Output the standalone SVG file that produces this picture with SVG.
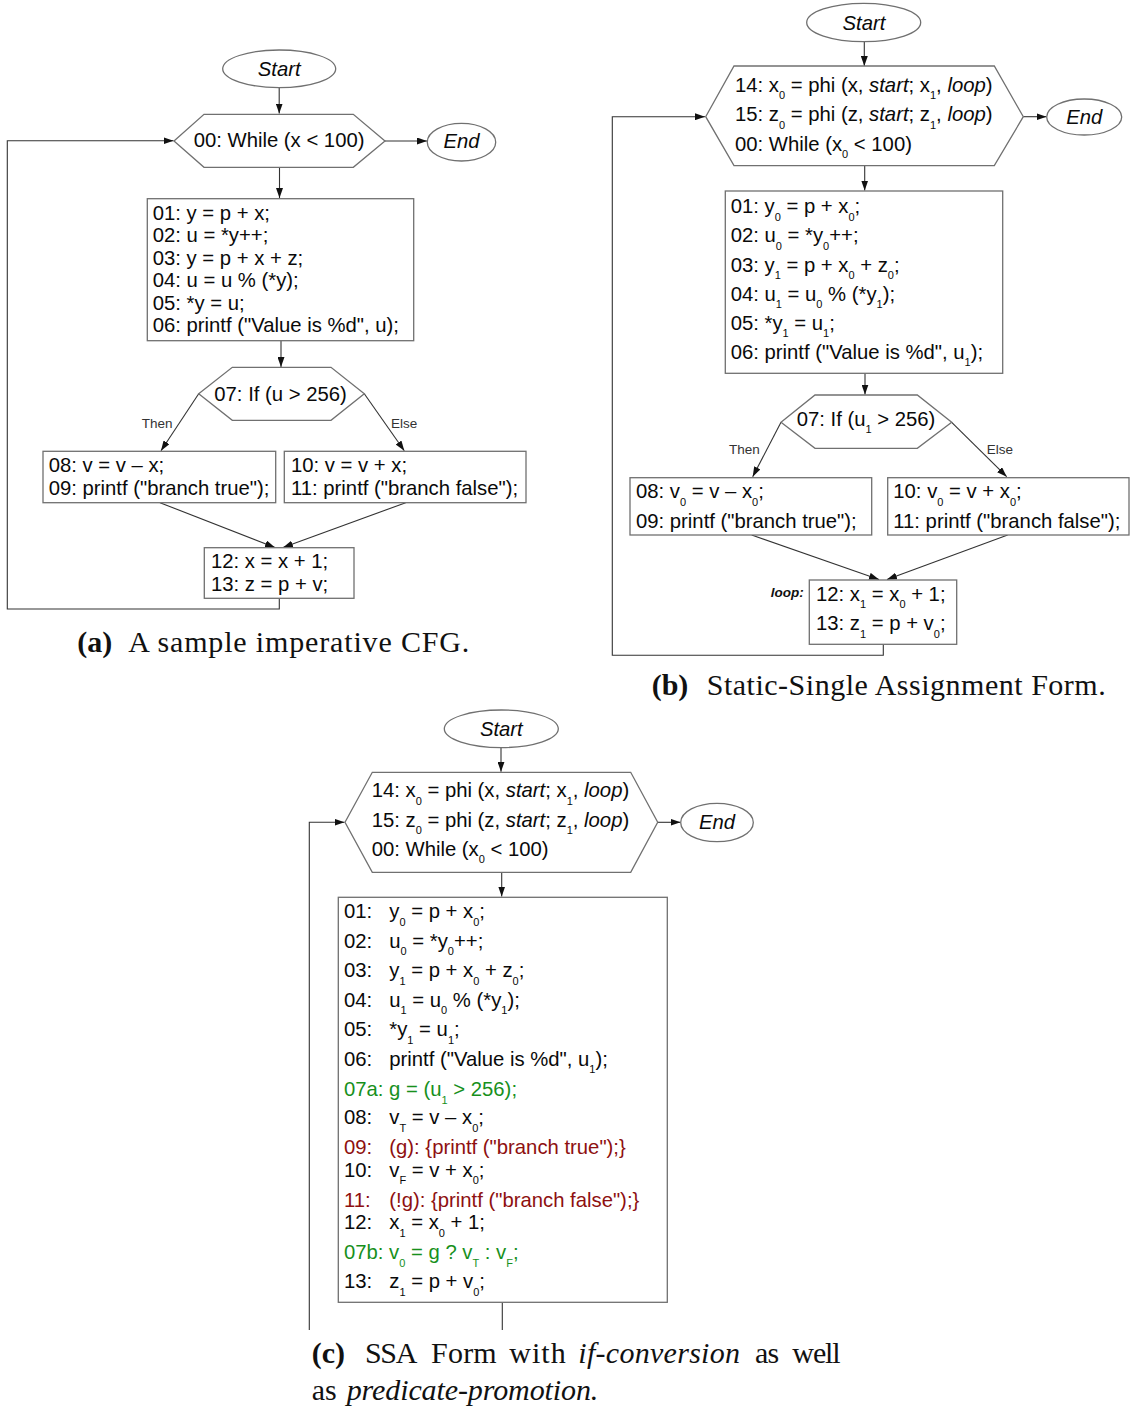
<svg xmlns="http://www.w3.org/2000/svg" width="1130" height="1416" viewBox="0 0 1130 1416">
<style>
  .code { font-family: "Liberation Sans", Arial, sans-serif; font-size: 20.3px; fill: #0a0a0a; }
  .it { font-style: italic; }
  .s { font-size: 11px; }
  .lbl { font-family: "Liberation Sans", Arial, sans-serif; font-size: 13.5px; fill: #333; }
  .loop { font-family: "Liberation Sans", Arial, sans-serif; font-size: 13.5px; font-weight: bold; font-style: italic; fill: #111; }
  .box { fill: #fff; stroke: #707070; stroke-width: 1.3; }
  .edge { fill: none; stroke: #333; stroke-width: 1.1; }
  .cap { font-family: "Liberation Serif", "Times New Roman", serif; font-size: 30px; fill: #111; }
  .capb { font-weight: bold; }
  .green { fill: #17901c; }
  .red { fill: #8e1010; }
</style>
<defs>
  <marker id="ah" viewBox="0 0 10 7" refX="10" refY="3.5" markerWidth="10" markerHeight="7" orient="auto" markerUnits="userSpaceOnUse">
    <path d="M0,0 L10,3.5 L0,7 z" fill="#111"/>
  </marker>
</defs>

<!-- ===== (a) imperative CFG ===== -->
<g id="a-connectors">
  <path class="edge" d="M279.2,87.7 V113.5" marker-end="url(#ah)"/>
  <path class="edge" d="M385,141 H427" marker-end="url(#ah)"/>
  <path class="edge" d="M279.5,167.3 V198" marker-end="url(#ah)"/>
  <path class="edge" d="M281,340.7 V367" marker-end="url(#ah)"/>
  <path class="edge" d="M198.7,393.7 L161,450.7" marker-end="url(#ah)"/>
  <path class="edge" d="M364.3,393.7 L404.3,450.7" marker-end="url(#ah)"/>
  <path class="edge" d="M160,502.7 L275,547.5" marker-end="url(#ah)"/>
  <path class="edge" d="M405.7,502.7 L283,547.5" marker-end="url(#ah)"/>
  <path class="edge" d="M279.3,598.3 V609 H7.3 V140.7 H173.5" marker-end="url(#ah)"/>
  <text class="lbl" x="141.7" y="427.7">Then</text>
  <text class="lbl" x="391" y="427.7">Else</text>
</g>
<g id="a-start">
  <ellipse class="box" cx="279.2" cy="68.8" rx="56.5" ry="18.8"/>
  <text class="code it" x="279.2" y="75.7" text-anchor="middle">Start</text>
</g>
<g id="a-while">
  <polygon class="box" points="174,141 204,114.3 353.3,114.3 385,141 353.3,167.3 204,167.3"/>
  <text class="code" x="193.7" y="147.3">00: While (x &lt; 100)</text>
</g>
<g id="a-end">
  <ellipse class="box" cx="461.5" cy="142.2" rx="34.2" ry="18.8"/>
  <text class="code it" x="461.5" y="148.3" text-anchor="middle">End</text>
</g>
<g id="a-body">
  <rect class="box" x="147.3" y="198.7" width="266.4" height="142"/>
  <text class="code" x="152.7" y="220">01: y = p + x;</text>
  <text class="code" x="152.7" y="242.3">02: u = *y++;</text>
  <text class="code" x="152.7" y="264.7">03: y = p + x + z;</text>
  <text class="code" x="152.7" y="287.2">04: u = u % (*y);</text>
  <text class="code" x="152.7" y="309.6">05: *y = u;</text>
  <text class="code" x="152.7" y="332">06: printf ("Value is %d", u);</text>
</g>
<g id="a-if">
  <polygon class="box" points="198.7,393.7 232.3,367.3 331,367.3 364.3,393.7 331,420.3 232.3,420.3"/>
  <text class="code" x="214.3" y="400.7">07: If (u &gt; 256)</text>
</g>
<g id="a-then">
  <rect class="box" x="43" y="451.3" width="232.7" height="51.4"/>
  <text class="code" x="48.7" y="472.3">08: v = v – x;</text>
  <text class="code" x="48.7" y="495">09: printf ("branch true");</text>
</g>
<g id="a-else">
  <rect class="box" x="284.3" y="451.3" width="241.7" height="51.4"/>
  <text class="code" x="291" y="472.3">10: v = v + x;</text>
  <text class="code" x="291" y="495">11: printf ("branch false");</text>
</g>
<g id="a-join">
  <rect class="box" x="204.3" y="547.7" width="149.7" height="50.6"/>
  <text class="code" x="211" y="568.3">12: x = x + 1;</text>
  <text class="code" x="211" y="590.7">13: z = p + v;</text>
</g>
<g id="a-caption">
  <text class="cap capb" x="77.3" y="651.7">(a)</text>
  <text class="cap" x="128.3" y="651.7" textLength="341" lengthAdjust="spacing">A sample imperative CFG.</text>
</g>

<!-- ===== (b) SSA form ===== -->
<g id="b-connectors">
  <path class="edge" d="M864.3,41.7 V66" marker-end="url(#ah)"/>
  <path class="edge" d="M1023.3,116.7 H1046.5" marker-end="url(#ah)"/>
  <path class="edge" d="M864.7,165.7 V190.5" marker-end="url(#ah)"/>
  <path class="edge" d="M865,373.3 V394.5" marker-end="url(#ah)"/>
  <path class="edge" d="M781,422.3 L752.7,476.7" marker-end="url(#ah)"/>
  <path class="edge" d="M951.7,422.3 L1006.7,476.7" marker-end="url(#ah)"/>
  <path class="edge" d="M751.7,535 L879,579.5" marker-end="url(#ah)"/>
  <path class="edge" d="M1007.7,535 L887,579.5" marker-end="url(#ah)"/>
  <path class="edge" d="M883.3,644.3 V655.3 H612.3 V116.7 H705" marker-end="url(#ah)"/>
  <text class="lbl" x="729" y="454">Then</text>
  <text class="lbl" x="986.7" y="454">Else</text>
</g>
<g id="b-start">
  <ellipse class="box" cx="863.7" cy="22.5" rx="57" ry="19.2"/>
  <text class="code it" x="864" y="30" text-anchor="middle">Start</text>
</g>
<g id="b-while">
  <polygon class="box" points="705.7,116.7 734,66 994.3,66 1023.3,116.7 994.3,165.7 734,165.7"/>
  <text class="code" x="735" y="91.7">14: x<tspan class="s" dy="7.5">0</tspan><tspan dy="-7.5"> = phi (x, </tspan><tspan class="it">start</tspan>; x<tspan class="s" dy="7.5">1</tspan><tspan dy="-7.5">, </tspan><tspan class="it">loop</tspan>)</text>
  <text class="code" x="735" y="121">15: z<tspan class="s" dy="7.5">0</tspan><tspan dy="-7.5"> = phi (z, </tspan><tspan class="it">start</tspan>; z<tspan class="s" dy="7.5">1</tspan><tspan dy="-7.5">, </tspan><tspan class="it">loop</tspan>)</text>
  <text class="code" x="735" y="150.7">00: While (x<tspan class="s" dy="7.5">0</tspan><tspan dy="-7.5"> &lt; 100)</tspan></text>
</g>
<g id="b-end">
  <ellipse class="box" cx="1084.2" cy="117" rx="37.5" ry="18"/>
  <text class="code it" x="1084.2" y="124" text-anchor="middle">End</text>
</g>
<g id="b-body">
  <rect class="box" x="725.3" y="191" width="277.4" height="182.3"/>
  <text class="code" x="730.7" y="213.3">01: y<tspan class="s" dy="7.5">0</tspan><tspan dy="-7.5"> = p + x</tspan><tspan class="s" dy="7.5">0</tspan><tspan dy="-7.5">;</tspan></text>
  <text class="code" x="730.7" y="242.4">02: u<tspan class="s" dy="7.5">0</tspan><tspan dy="-7.5"> = *y</tspan><tspan class="s" dy="7.5">0</tspan><tspan dy="-7.5">++;</tspan></text>
  <text class="code" x="730.7" y="271.5">03: y<tspan class="s" dy="7.5">1</tspan><tspan dy="-7.5"> = p + x</tspan><tspan class="s" dy="7.5">0</tspan><tspan dy="-7.5"> + z</tspan><tspan class="s" dy="7.5">0</tspan><tspan dy="-7.5">;</tspan></text>
  <text class="code" x="730.7" y="300.5">04: u<tspan class="s" dy="7.5">1</tspan><tspan dy="-7.5"> = u</tspan><tspan class="s" dy="7.5">0</tspan><tspan dy="-7.5"> % (*y</tspan><tspan class="s" dy="7.5">1</tspan><tspan dy="-7.5">);</tspan></text>
  <text class="code" x="730.7" y="329.6">05: *y<tspan class="s" dy="7.5">1</tspan><tspan dy="-7.5"> = u</tspan><tspan class="s" dy="7.5">1</tspan><tspan dy="-7.5">;</tspan></text>
  <text class="code" x="730.7" y="358.7">06: printf ("Value is %d", u<tspan class="s" dy="7.5">1</tspan><tspan dy="-7.5">);</tspan></text>
</g>
<g id="b-if">
  <polygon class="box" points="781,422.3 815,395 917.3,395 951.7,422.3 917.3,448.3 815,448.3"/>
  <text class="code" x="796.7" y="425.7">07: If (u<tspan class="s" dy="7.5">1</tspan><tspan dy="-7.5"> &gt; 256)</tspan></text>
</g>
<g id="b-then">
  <rect class="box" x="630" y="477.7" width="241.7" height="57.3"/>
  <text class="code" x="636" y="498.3">08: v<tspan class="s" dy="7.5">0</tspan><tspan dy="-7.5"> = v – x</tspan><tspan class="s" dy="7.5">0</tspan><tspan dy="-7.5">;</tspan></text>
  <text class="code" x="636" y="527.7">09: printf ("branch true");</text>
</g>
<g id="b-else">
  <rect class="box" x="887.7" y="477.7" width="241.3" height="57.3"/>
  <text class="code" x="893.3" y="498.3">10: v<tspan class="s" dy="7.5">0</tspan><tspan dy="-7.5"> = v + x</tspan><tspan class="s" dy="7.5">0</tspan><tspan dy="-7.5">;</tspan></text>
  <text class="code" x="893.3" y="527.7">11: printf ("branch false");</text>
</g>
<g id="b-join">
  <text class="loop" x="770.7" y="596.7">loop:</text>
  <rect class="box" x="809.3" y="580" width="147.4" height="64.3"/>
  <text class="code" x="816" y="600.7">12: x<tspan class="s" dy="7.5">1</tspan><tspan dy="-7.5"> = x</tspan><tspan class="s" dy="7.5">0</tspan><tspan dy="-7.5"> + 1;</tspan></text>
  <text class="code" x="816" y="630">13: z<tspan class="s" dy="7.5">1</tspan><tspan dy="-7.5"> = p + v</tspan><tspan class="s" dy="7.5">0</tspan><tspan dy="-7.5">;</tspan></text>
</g>
<g id="b-caption">
  <text class="cap capb" x="651.7" y="695">(b)</text>
  <text class="cap" x="706.7" y="695" textLength="399" lengthAdjust="spacing">Static-Single Assignment Form.</text>
</g>

<!-- ===== (c) SSA with if-conversion ===== -->
<g id="c-connectors">
  <path class="edge" d="M501,747.7 V771.8" marker-end="url(#ah)"/>
  <path class="edge" d="M657.7,822.3 H680.5" marker-end="url(#ah)"/>
  <path class="edge" d="M501.7,872.3 V896.5" marker-end="url(#ah)"/>
  <path class="edge" d="M502.3,1302.3 V1330"/>
  <path class="edge" d="M309.3,1330 V822.3 H344.5" marker-end="url(#ah)"/>
</g>
<g id="c-start">
  <ellipse class="box" cx="501.3" cy="728.8" rx="57" ry="18.8"/>
  <text class="code it" x="501.3" y="735.7" text-anchor="middle">Start</text>
</g>
<g id="c-while">
  <polygon class="box" points="345,822.3 372.3,772.3 630.7,772.3 657.7,822.3 630.7,872.3 372.3,872.3"/>
  <text class="code" x="371.7" y="797.3">14: x<tspan class="s" dy="7.5">0</tspan><tspan dy="-7.5"> = phi (x, </tspan><tspan class="it">start</tspan>; x<tspan class="s" dy="7.5">1</tspan><tspan dy="-7.5">, </tspan><tspan class="it">loop</tspan>)</text>
  <text class="code" x="371.7" y="826.7">15: z<tspan class="s" dy="7.5">0</tspan><tspan dy="-7.5"> = phi (z, </tspan><tspan class="it">start</tspan>; z<tspan class="s" dy="7.5">1</tspan><tspan dy="-7.5">, </tspan><tspan class="it">loop</tspan>)</text>
  <text class="code" x="371.7" y="855.7">00: While (x<tspan class="s" dy="7.5">0</tspan><tspan dy="-7.5"> &lt; 100)</tspan></text>
</g>
<g id="c-end">
  <ellipse class="box" cx="717" cy="822.5" rx="36.3" ry="19.2"/>
  <text class="code it" x="717" y="829.3" text-anchor="middle">End</text>
</g>
<g id="c-body">
  <rect class="box" x="338.3" y="897.3" width="329" height="405"/>
  <text class="code" x="344" y="918.3">01:</text>
  <text class="code" x="389.3" y="918.3">y<tspan class="s" dy="7.5">0</tspan><tspan dy="-7.5"> = p + x</tspan><tspan class="s" dy="7.5">0</tspan><tspan dy="-7.5">;</tspan></text>
  <text class="code" x="344" y="947.7">02:</text>
  <text class="code" x="389.3" y="947.7">u<tspan class="s" dy="7.5">0</tspan><tspan dy="-7.5"> = *y</tspan><tspan class="s" dy="7.5">0</tspan><tspan dy="-7.5">++;</tspan></text>
  <text class="code" x="344" y="977.3">03:</text>
  <text class="code" x="389.3" y="977.3">y<tspan class="s" dy="7.5">1</tspan><tspan dy="-7.5"> = p + x</tspan><tspan class="s" dy="7.5">0</tspan><tspan dy="-7.5"> + z</tspan><tspan class="s" dy="7.5">0</tspan><tspan dy="-7.5">;</tspan></text>
  <text class="code" x="344" y="1006.7">04:</text>
  <text class="code" x="389.3" y="1006.7">u<tspan class="s" dy="7.5">1</tspan><tspan dy="-7.5"> = u</tspan><tspan class="s" dy="7.5">0</tspan><tspan dy="-7.5"> % (*y</tspan><tspan class="s" dy="7.5">1</tspan><tspan dy="-7.5">);</tspan></text>
  <text class="code" x="344" y="1036">05:</text>
  <text class="code" x="389.3" y="1036">*y<tspan class="s" dy="7.5">1</tspan><tspan dy="-7.5"> = u</tspan><tspan class="s" dy="7.5">1</tspan><tspan dy="-7.5">;</tspan></text>
  <text class="code" x="344" y="1065.7">06:</text>
  <text class="code" x="389.3" y="1065.7">printf ("Value is %d", u<tspan class="s" dy="7.5">1</tspan><tspan dy="-7.5">);</tspan></text>
  <text class="code green" x="344" y="1096">07a: g = (u<tspan class="s" dy="7.5">1</tspan><tspan dy="-7.5"> &gt; 256);</tspan></text>
  <text class="code" x="344" y="1124.3">08:</text>
  <text class="code" x="389.3" y="1124.3">v<tspan class="s" dy="7.5">T</tspan><tspan dy="-7.5"> = v – x</tspan><tspan class="s" dy="7.5">0</tspan><tspan dy="-7.5">;</tspan></text>
  <text class="code red" x="344" y="1154">09:</text>
  <text class="code red" x="389.3" y="1154">(g): {printf ("branch true");}</text>
  <text class="code" x="344" y="1176.7">10:</text>
  <text class="code" x="389.3" y="1176.7">v<tspan class="s" dy="7.5">F</tspan><tspan dy="-7.5"> = v + x</tspan><tspan class="s" dy="7.5">0</tspan><tspan dy="-7.5">;</tspan></text>
  <text class="code red" x="344" y="1206.7">11:</text>
  <text class="code red" x="389.3" y="1206.7">(!g): {printf ("branch false");}</text>
  <text class="code" x="344" y="1229.3">12:</text>
  <text class="code" x="389.3" y="1229.3">x<tspan class="s" dy="7.5">1</tspan><tspan dy="-7.5"> = x</tspan><tspan class="s" dy="7.5">0</tspan><tspan dy="-7.5"> + 1;</tspan></text>
  <text class="code green" x="344" y="1259.3">07b: v<tspan class="s" dy="7.5">0</tspan><tspan dy="-7.5"> = g ? v</tspan><tspan class="s" dy="7.5">T</tspan><tspan dy="-7.5"> : v</tspan><tspan class="s" dy="7.5">F</tspan><tspan dy="-7.5">;</tspan></text>
  <text class="code" x="344" y="1288.3">13:</text>
  <text class="code" x="389.3" y="1288.3">z<tspan class="s" dy="7.5">1</tspan><tspan dy="-7.5"> = p + v</tspan><tspan class="s" dy="7.5">0</tspan><tspan dy="-7.5">;</tspan></text>
</g>
<g id="c-caption">
  <text class="cap capb" x="311.7" y="1363.3">(c)</text>
  <text class="cap" x="365" y="1363.3" textLength="52.3" lengthAdjust="spacing">SSA</text>
  <text class="cap" x="431" y="1363.3" textLength="65.7" lengthAdjust="spacing">Form</text>
  <text class="cap" x="509.3" y="1363.3" textLength="56.4" lengthAdjust="spacing">with</text>
  <text class="cap it" x="578.3" y="1363.3" textLength="161.7" lengthAdjust="spacing">if-conversion</text>
  <text class="cap" x="755" y="1363.3" textLength="24.3" lengthAdjust="spacing">as</text>
  <text class="cap" x="792.3" y="1363.3" textLength="48.4" lengthAdjust="spacing">well</text>
  <text class="cap" x="311.7" y="1400">as</text>
  <text class="cap it" x="346.7" y="1400" textLength="251.6" lengthAdjust="spacing">predicate-promotion.</text>
</g>
</svg>
